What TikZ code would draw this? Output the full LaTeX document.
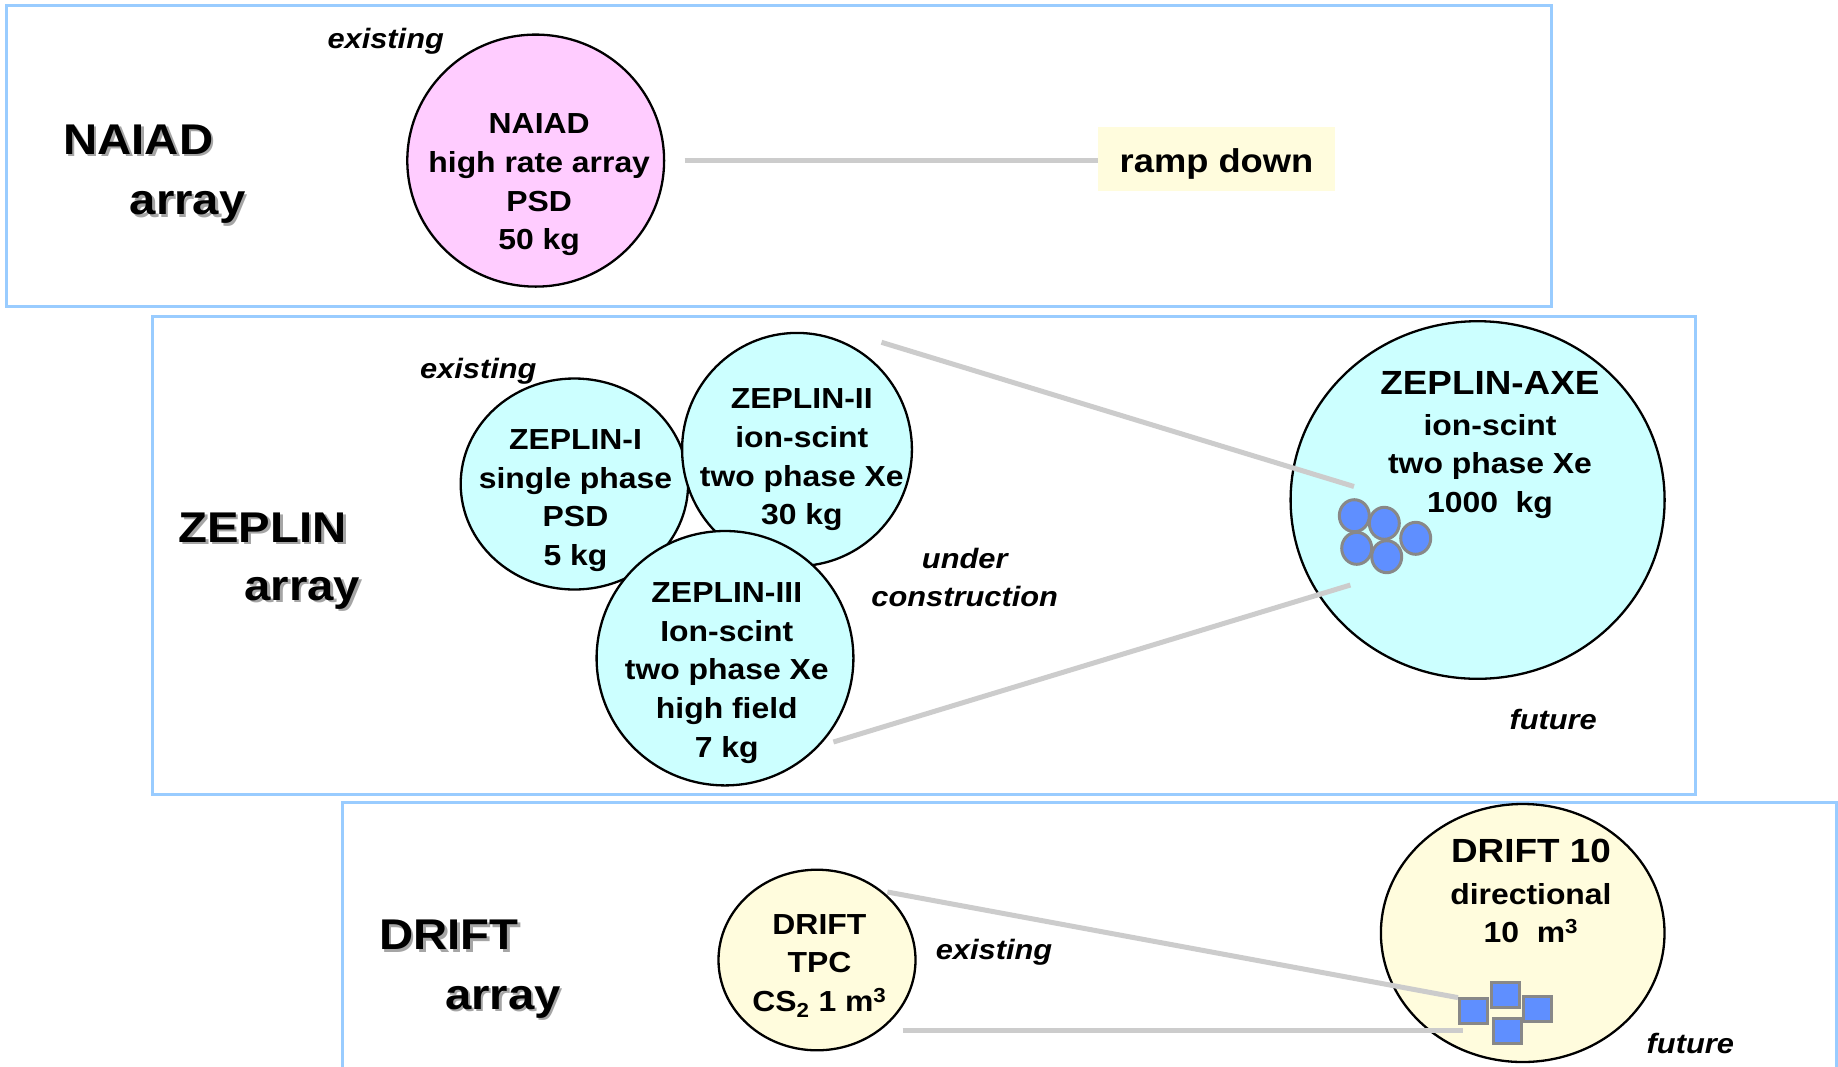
\documentclass[tikz,border=0pt]{standalone}
\usepackage{fontspec}
\setmainfont[FakeStretch=1.1]{Liberation Sans}
\usetikzlibrary{shapes.geometric}
\definecolor{boxblue}{RGB}{153,204,255}
\definecolor{pinkfill}{RGB}{255,204,255}
\definecolor{cyanfill}{RGB}{204,255,255}
\definecolor{yelfill}{RGB}{255,252,221}
\definecolor{conngray}{RGB}{204,204,204}
\definecolor{dotblue}{RGB}{95,143,255}
\definecolor{dotborder}{RGB}{136,136,136}
\definecolor{shadowgray}{RGB}{165,165,165}
\newcommand\shtext[1]{\makebox[0pt][l]{\hspace{2.5pt}\raisebox{-2.5pt}{\textcolor{shadowgray}{#1}}}#1}
\begin{document}
\begin{tikzpicture}[x=1pt,y=-1pt,
  panel/.style={draw=boxblue, line width=3pt},
  bubble/.style={ellipse, draw=black, line width=2.3pt, inner sep=0pt},
  ctext/.style={font=\fontsize{29}{38.7}\selectfont\bfseries, align=center, inner sep=0pt},
  headtext/.style={font=\fontsize{33.5}{40}\selectfont\bfseries, inner sep=0pt},
  notetext/.style={font=\fontsize{28}{38.7}\selectfont\bfseries\itshape, align=center, inner sep=0pt},
  bigtext/.style={font=\fontsize{43}{50}\selectfont\bfseries, inner sep=0pt},
  conn/.style={draw=conngray, line width=5pt},
  dotc/.style={ellipse, draw=dotborder, fill=dotblue, line width=3pt, minimum width=30pt, minimum height=32pt, inner sep=0pt},
  sqr/.style={rectangle, draw=dotborder, fill=dotblue, line width=3pt, minimum width=28pt, minimum height=25pt, inner sep=0pt}]
\useasboundingbox (0,0) rectangle (1838,1066);
\clip (0,0) rectangle (1838,1066);
\fill[white] (0,0) rectangle (1838,1066);

% panels
\draw[panel] (6,5) rectangle (1551,306);
\draw[panel] (152,316) rectangle (1695,794);
\draw[panel] (342,802) rectangle (1836,1090);

% ---------- NAIAD ----------
\node[bigtext] (naiadlbl) at (138.3,140.5) {\shtext{NAIAD}};
\node[bigtext] (naiadarr) at (187.6,208.7) {\shtext{array}};
\node[notetext] (exist1) at (385.7,41) {existing};
\node[bubble, fill=pinkfill, minimum width=256.8pt, minimum height=252pt] (naiad) at (535.7,160.6) {};
\node[ctext] (naiadtxt) at (539.2,185) {NAIAD\\high rate array\\PSD\\50 kg};
\node[rectangle, fill=yelfill, minimum width=237pt, minimum height=64.4pt, inner sep=0pt] (ramp) at (1216.5,158.8) {};
\node[inner sep=0pt, font=\fontsize{33}{40}\selectfont\bfseries] (ramptxt) at (1216.5,163.5) {ramp down};
\coordinate (naiadout) at (684.6,160.6);
\draw[conn] (naiadout) -- (ramp.west |- naiadout);

% ---------- ZEPLIN ----------
\node[bigtext] (zeplbl) at (262.6,528.5) {\shtext{ZEPLIN}};
\node[bigtext] (zeparr) at (302.4,594.4) {\shtext{array}};
\node[notetext] (exist2) at (478.3,371.5) {existing};
\node[bubble, fill=cyanfill, minimum width=227.4pt, minimum height=211pt] (z1) at (574.4,484) {};
\node[bubble, fill=cyanfill, minimum width=229.8pt, minimum height=233.2pt] (z2) at (797,449.5) {};
\node[bubble, fill=cyanfill, minimum width=256.8pt, minimum height=254.4pt] (z3) at (725,658.2) {};
\node[ctext] (z1txt) at (575.5,500.5) {ZEPLIN-I\\single phase\\PSD\\5 kg};
\node[ctext] (z2txt) at (801.8,460) {ZEPLIN-II\\ion-scint\\two phase Xe\\30 kg};
\node[ctext] (z3txt) at (726.8,672.8) {ZEPLIN-III\\Ion-scint\\two phase Xe\\high field\\7 kg};
\node[notetext] (under) at (964.7,577.4) {under\\construction};
\node[bubble, fill=cyanfill, minimum width=374pt, minimum height=357.6pt] (axe) at (1477.6,500) {};
\node[headtext] (axehead) at (1489.9,383.3) {ZEPLIN-AXE};
\node[ctext] (axetxt) at (1490,466.5) {ion-scint\\two phase Xe\\1000\ \ kg};
\node[notetext] (future1) at (1553.2,719.8) {future};
\coordinate (za) at (881.5,342.3);
\coordinate (zb) at (1354,486.5);
\coordinate (zc) at (833.4,742);
\coordinate (zd) at (1350.4,585);
\draw[conn] (za) -- (zb);
\draw[conn] (zc) -- (zd);
\node[dotc] (d1) at (1354.3,515.7) {};
\node[dotc] (d2) at (1384.3,523.3) {};
\node[dotc] (d3) at (1415.7,538.3) {};
\node[dotc] (d4) at (1356.7,548.3) {};
\node[dotc] (d5) at (1386.7,556.7) {};

% ---------- DRIFT ----------
\node[bigtext] (driftlbl) at (449,936.4) {\shtext{DRIFT}};
\node[bigtext] (driftarr) at (502.9,1003.4) {\shtext{array}};
\node[bubble, fill=yelfill, minimum width=197pt, minimum height=180.6pt] (drift) at (817,960) {};
\node[ctext] (drifttxt) at (819.4,965.8) {DRIFT\\TPC\\CS\textsubscript{2} 1 m\textsuperscript{3}};
\node[notetext] (exist3) at (994,951.8) {existing};
\node[bubble, fill=yelfill, minimum width=283.6pt, minimum height=258pt] (d10) at (1522.7,933) {};
\node[headtext] (d10head) at (1530.9,851.1) {DRIFT 10};
\node[ctext] (d10txt) at (1530.9,913.2) {directional\\10\ \ m\textsuperscript{3}};
\node[notetext] (future2) at (1690.3,1043.3) {future};
\coordinate (da) at (887.4,892);
\coordinate (db) at (1458,997.6);
\coordinate (dc) at (902.6,1030.4);
\coordinate (dd) at (1463,1030.4);
\draw[conn] (da) -- (db);
\draw[conn] (dc) -- (dd);
\node[sqr] (s1) at (1473.5,1010.8) {};
\node[sqr] (s2) at (1505.5,995) {};
\node[sqr] (s3) at (1537.2,1008.8) {};
\node[sqr] (s4) at (1507.5,1030.5) {};
\end{tikzpicture}
\end{document}
